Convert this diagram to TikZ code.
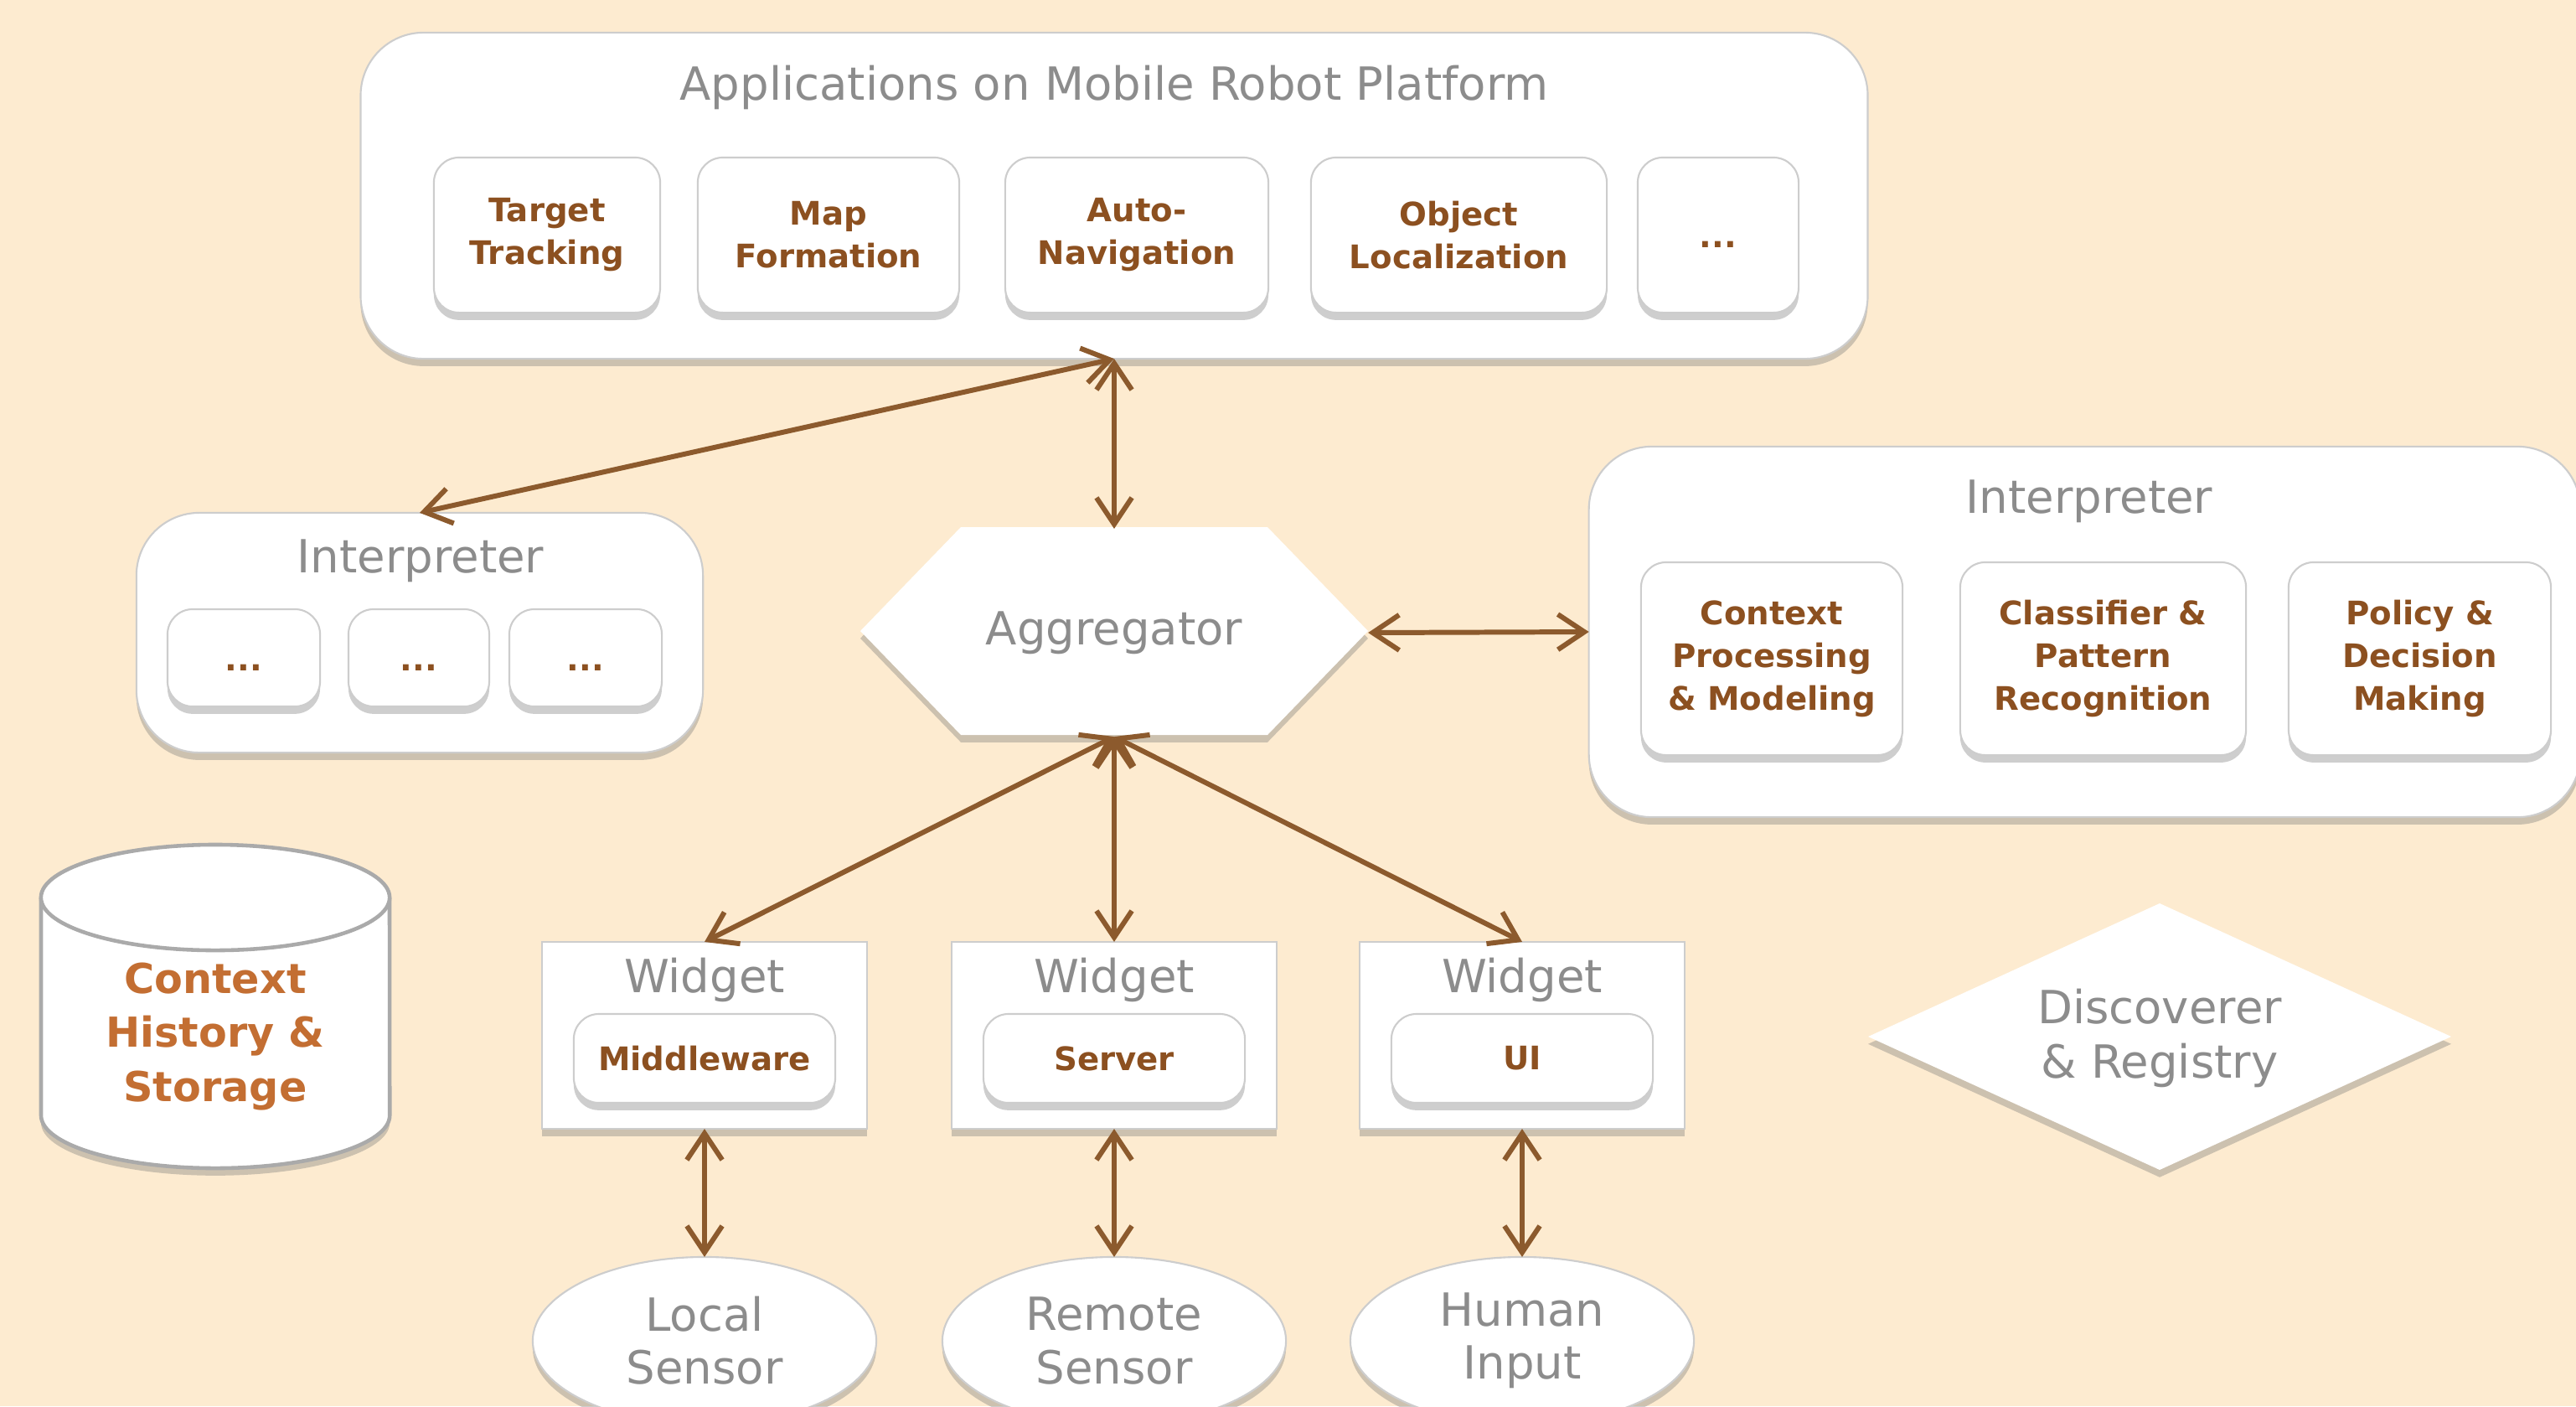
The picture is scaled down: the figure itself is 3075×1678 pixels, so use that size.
\documentclass[tikz,border=0pt]{standalone}
\usepackage{fontspec}
\setmainfont{DejaVu Sans}
\usetikzlibrary{arrows.meta,shapes.geometric,shadows}
\definecolor{bgc}{RGB}{253,235,208}
\definecolor{graytxt}{RGB}{140,140,140}
\definecolor{browntxt}{RGB}{140,80,32}
\definecolor{orangetxt}{RGB}{195,110,50}
\definecolor{arrowc}{RGB}{140,90,45}
\definecolor{edgec}{RGB}{205,205,205}
\definecolor{cyledge}{RGB}{170,170,170}
\begin{document}
\begin{tikzpicture}[x=0.01cm,y=-0.01cm,
  softshadow/.style={drop shadow={shadow xshift=0pt,shadow yshift=-2.5pt,opacity=0.35,fill=black!55}},
  bigbox/.style={draw=edgec,line width=0.6pt,fill=white,rounded corners=0.75cm,softshadow,inner sep=0pt,outer sep=0pt},
  subbox/.style={draw=edgec,line width=0.6pt,fill=white,rounded corners=0.3cm,softshadow,inner sep=2pt,outer sep=0pt,align=center,text=browntxt,font=\bfseries\fontsize{11}{14.5}\selectfont},
  dotbox/.style={subbox,text depth=-3pt},
  widgetbox/.style={draw=edgec,line width=0.6pt,fill=white,softshadow,minimum width=3.88cm,minimum height=2.23cm,inner sep=0pt,outer sep=0pt},
  graylabel/.style={text=graytxt,font=\fontsize{15.5}{18.5}\selectfont,align=center,inner sep=0pt},
  sensor/.style={ellipse,draw=edgec,line width=0.6pt,fill=white,softshadow,minimum width=4.1cm,minimum height=2cm,inner sep=0pt,outer sep=0pt,text=graytxt,font=\fontsize{15.5}{18}\selectfont,align=center},
  dlink/.style={draw=arrowc,line width=1.7pt,{Straight Barb[length=9pt,width=12pt]}-{Straight Barb[length=9pt,width=12pt]}},
]
\fill[bgc] (0,0) rectangle (3075,1678);
\useasboundingbox (0,0) rectangle (3075,1678);

% Applications box
\node[bigbox,minimum width=17.98cm,minimum height=3.89cm] (app) at (1330,233.5) {};
\node[graylabel] (apptitle) at (1330,104) {Applications on Mobile Robot Platform};
\node[subbox,minimum width=2.70cm,minimum height=1.85cm] (tt) at (653,280.5) {Target\\Tracking};
\node[subbox,minimum width=3.12cm,minimum height=1.85cm] (mf) at (989,280.5) {Map\\Formation};
\node[subbox,minimum width=3.14cm,minimum height=1.85cm] (an) at (1357,280.5) {Auto-\\Navigation};
\node[subbox,minimum width=3.53cm,minimum height=1.85cm] (ol) at (1741.5,280.5) {Object\\Localization};
\node[subbox,minimum width=1.92cm,minimum height=1.85cm] (ad) at (2051,280.5) {};
\node[text=browntxt,font=\bfseries\fontsize{11}{14.5}\selectfont,inner sep=0pt] (adt) at (2051,292) {...};

% Left interpreter
\node[bigbox,minimum width=6.76cm,minimum height=2.86cm] (lint) at (501,755) {};
\node[graylabel] (linttitle) at (502,669) {Interpreter};
\node[subbox,minimum width=1.82cm,minimum height=1.16cm] (l1) at (291,785) {};
\node[subbox,minimum width=1.68cm,minimum height=1.16cm] (l2) at (500,785) {};
\node[subbox,minimum width=1.82cm,minimum height=1.16cm] (l3) at (699,785) {};
\node[text=browntxt,font=\bfseries\fontsize{11}{14.5}\selectfont,inner sep=0pt] (l1t) at (291,797) {...};
\node[text=browntxt,font=\bfseries\fontsize{11}{14.5}\selectfont,inner sep=0pt] (l2t) at (500,797) {...};
\node[text=browntxt,font=\bfseries\fontsize{11}{14.5}\selectfont,inner sep=0pt] (l3t) at (699,797) {...};

% Right interpreter
\node[bigbox,minimum width=11.83cm,minimum height=4.42cm] (rint) at (2488.5,754) {};
\node[graylabel] (rinttitle) at (2494,598) {Interpreter};
\node[subbox,minimum width=3.12cm,minimum height=2.30cm] (r1) at (2115,786) {Context\\Processing\\\& Modeling};
\node[subbox,minimum width=3.41cm,minimum height=2.30cm] (r2) at (2510.5,786) {Classifier \&\\Pattern\\Recognition};
\node[subbox,minimum width=3.13cm,minimum height=2.30cm] (r3) at (2888.5,786) {Policy \&\\Decision\\Making};

% Aggregator
\fill[white,softshadow] (1027,753) -- (1147,629) -- (1513,629) -- (1633,753) -- (1513,877) -- (1147,877) -- cycle;
\node[graylabel,minimum width=6.06cm,minimum height=2.48cm,outer sep=0pt] (agg) at (1330,755) {Aggregator};

% Cylinder
\draw[cyledge,line width=1.3pt,fill=white,softshadow] (49,1071) -- (49,1331) arc[start angle=180,end angle=360,x radius=2.08cm,y radius=0.63cm] -- (465,1071);
\draw[cyledge,line width=1.3pt,fill=white] (257,1071) ellipse [x radius=2.08cm,y radius=0.63cm];
\node[text=orangetxt,font=\bfseries\fontsize{14}{18.4}\selectfont,align=center,inner sep=0pt] (cyltext) at (257,1237) {Context\\History \&\\Storage};

% Widgets
\node[widgetbox] (w1) at (841,1235.5) {};
\node[widgetbox] (w2) at (1330,1235.5) {};
\node[widgetbox] (w3) at (1817,1235.5) {};
\node[graylabel] (w1t) at (841,1169) {Widget};
\node[graylabel] (w2t) at (1330,1169) {Widget};
\node[graylabel] (w3t) at (1817,1169) {Widget};
\node[subbox,minimum width=3.12cm,minimum height=1.06cm] (mw) at (841,1263) {Middleware};
\node[subbox,minimum width=3.12cm,minimum height=1.06cm] (sv) at (1330,1263) {Server};
\node[subbox,minimum width=3.12cm,minimum height=1.06cm] (ui) at (1817,1263) {UI};

% Sensors
\node[sensor] (ls) at (841,1600) {Local\\Sensor};
\node[sensor] (rs) at (1330,1600) {Remote\\Sensor};
\node[sensor] (hi) at (1817,1600) {Human\\Input};

% Discoverer
\fill[white,softshadow] (2230,1237) -- (2578,1078) -- (2926,1237) -- (2578,1396) -- cycle;
\node[graylabel,minimum width=6.96cm,minimum height=3.18cm] (disc) at (2578,1239) {Discoverer\\\& Registry};

% Connectors
\draw[dlink] (app.south) -- (agg.north);
\draw[dlink] (app.south) -- (lint.north);
\draw[dlink] (agg.east) -- (rint.west);
\draw[dlink] (agg.south) -- (w1.north);
\draw[dlink] (agg.south) -- (w2.north);
\draw[dlink] (agg.south) -- (w3.north);
\draw[dlink] (w1.south) -- (ls.north);
\draw[dlink] (w2.south) -- (rs.north);
\draw[dlink] (w3.south) -- (hi.north);
\end{tikzpicture}
\end{document}
